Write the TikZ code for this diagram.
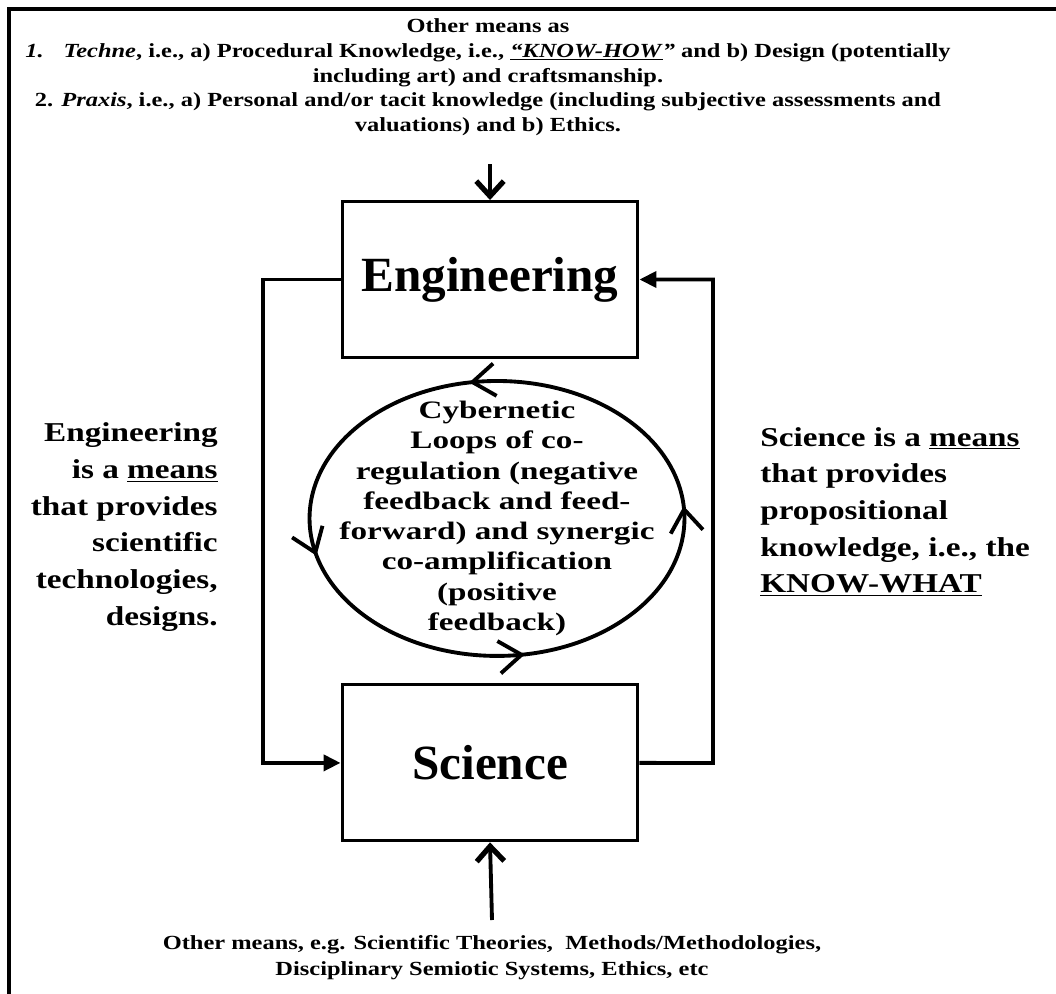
\documentclass[tikz,border=0pt]{standalone}
\usepackage{fontspec}
\setmainfont{Liberation Serif}
\newfontfamily\wideserif[FakeStretch=1.22]{Liberation Serif}
\newfontfamily\widerserif[FakeStretch=1.32]{Liberation Serif}
\usepackage{tikz}
\usetikzlibrary{arrows.meta,positioning,decorations.markings}

\begin{document}
\begin{tikzpicture}[x=0.02cm,y=-0.02cm,node distance=9.67cm,on grid,
  box/.style={draw,line width=1.7pt,minimum width=5.92cm,minimum height=3.12cm,
    font=\fontsize{28}{30}\selectfont\bfseries},
  side/.style={inner sep=0pt,font=\wideserif\fontsize{15.5}{20.9}\selectfont\bfseries},
  cyb/.style={align=center,font=\widerserif\fontsize{14.3}{17.2}\selectfont\bfseries},
  note/.style={align=center,font=\wideserif\fontsize{11.4}{14.2}\selectfont\bfseries},
  feed/.style={line width=2.2pt,-{Triangle[length=0.34cm,width=0.32cm]}},
  input/.style={line width=2.2pt,-{Straight Barb[length=0.3cm,width=0.55cm,line width=3pt]}},
  loopline/.style={line width=2.2pt,postaction={decorate},decoration={markings,
    mark=at position 0.125 with {\arrow{Straight Barb[length=0.45cm,width=0.65cm]}},
    mark=at position 0.39 with {\arrow{Straight Barb[length=0.45cm,width=0.65cm]}},
    mark=at position 0.65 with {\arrow{Straight Barb[length=0.45cm,width=0.65cm]}},
    mark=at position 0.89 with {\arrow{Straight Barb[length=0.45cm,width=0.65cm]}}}}]
  \useasboundingbox (0,0) rectangle (1056,994);
  \draw[line width=1.9pt] (9,994) |- (1056,9);

  \node[box] (eng) at (490,279.5) {Engineering};
  \node[box] (sci) [below = of eng] {Science};
  \node[cyb] (loop) [below right = 4.78cm and 0.14cm of eng] {Cybernetic\\ Loops of co-\\
    regulation (negative\\ feedback and feed-\\ forward) and synergic\\ co-amplification\\
    (positive\\ feedback)};

  \node[note,anchor=north] (meanstop) at (488,12) {Other means as\\
    \textit{1.}\hspace{1em}\textit{Techne}, i.e., a) Procedural Knowledge, i.e.,
    \underline{\textit{“KNOW-HOW}}\textit{”} and b) Design (potentially\\
    including art) and craftsmanship.\\
    2. \textit{Praxis}, i.e., a) Personal and/or tacit knowledge (including subjective assessments and\\
    valuations) and b) Ethics.};
  \node[note,anchor=north,font=\wideserif\fontsize{11.4}{14.8}\selectfont\bfseries] (meansbot) at (492,929)
    {Other means, e.g. Scientific Theories,\ \ Methods/Methodologies,\\
    Disciplinary Semiotic Systems, Ethics, etc};

  \node[side,align=right,anchor=east] (engtxt) at (218,527) {Engineering\\ is a \underline{means}\\
    that provides\\ scientific\\ technologies,\\ designs.};
  \node[side,align=left,anchor=west] (scitxt) at (760,512) {Science is a \underline{means}\\
    that provides\\ propositional\\ knowledge, i.e., the\\ \underline{KNOW-WHAT}};

  \coordinate (lturn) at (263,279.5);
  \coordinate (rturn) at (713,763);
  \coordinate (topin) at (490,164);
  \coordinate (botin) at (492,920);

  \draw[feed] (eng.west) -- (lturn) |- (sci.west);
  \draw[feed] (sci.east) -- (rturn) |- (eng.east);
  \draw[input] (topin) -- (eng.north);
  \draw[input] (botin) -- (sci.south);
  \draw[loopline] ([shift={(-45:3.75cm and 2.75cm)}]loop.center)
    arc [start angle=-45, delta angle=360, x radius=3.75cm, y radius=2.75cm];
\end{tikzpicture}
\end{document}
